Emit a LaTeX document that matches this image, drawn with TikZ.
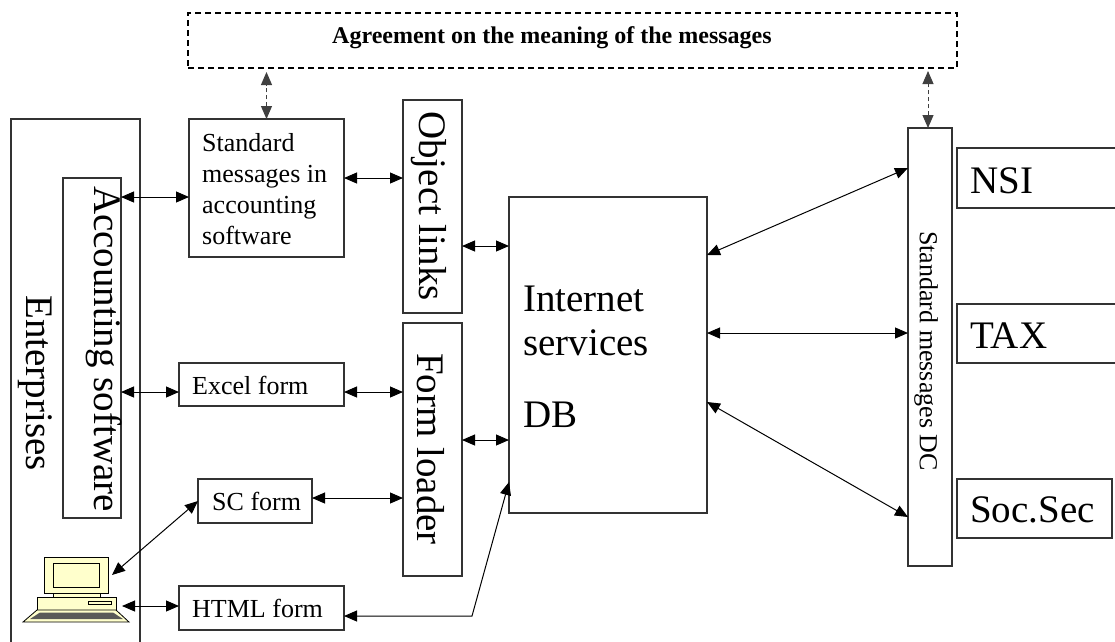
\documentclass[tikz,border=0pt]{standalone}
\usepackage{fontspec}
\setmainfont{Liberation Serif}
\usetikzlibrary{arrows.meta}
\definecolor{pcyel}{HTML}{FFFFCC}
\begin{document}
\begin{tikzpicture}[x=1pt,y=-1pt,
  box/.style={draw=black!80, line width=1.2pt, inner sep=0pt, outer sep=0pt, anchor=north west, fill=white},
  big/.style={font=\fontsize{39}{45}\selectfont, inner sep=0pt},
  small/.style={font=\fontsize{26}{31}\selectfont, inner sep=0pt},
  arr/.style={{Triangle[length=13pt,width=11pt]}-{Triangle[length=13pt,width=11pt]}, line width=1pt},
  dasharr/.style={arr, dash pattern=on 4pt off 3pt, draw=black!75},
]
\useasboundingbox (0,0) rectangle (1115,641);
\clip (0,0) rectangle (1115,641);

% agreement box
\node[box, draw=black, dash pattern=on 6pt off 4pt, minimum width=769, minimum height=55] (agree) at (188,13) {};
\node[anchor=base west, inner sep=0pt, font=\bfseries\fontsize{24}{28}\selectfont] (agreetext) at (332,43) {Agreement on the meaning of the messages};

% enterprises
\node[box, minimum width=129, minimum height=560] (ent) at (11,119) {};
\node[big, rotate=-90] (enttext) at (35,383) {Enterprises};
\node[box, minimum width=58, minimum height=340] (acc) at (63,178) {};
\node[big, rotate=-90] (acctext) at (104,349) {Accounting software};

% standard messages in accounting software
\node[box, minimum width=155, minimum height=138] (stdmsg) at (189,119) {};
\node[small, align=left, anchor=north west] (stdtext) at (202,133) {Standard\\messages in\\accounting\\software};

% object links / form loader
\node[box, minimum width=59, minimum height=213] (obj) at (403,100) {};
\node[big, rotate=-90] (objtext) at (429,206) {Object links};
\node[box, minimum width=59, minimum height=253] (fl) at (403,323) {};
\node[big, rotate=-90] (fltext) at (431,449) {Form loader};

% forms
\node[box, minimum width=165, minimum height=43] (excel) at (179,363) {};
\node[small, anchor=base west] (exceltext) at (192,394) {Excel form};
\node[box, minimum width=114, minimum height=44] (sc) at (198,479) {};
\node[small, anchor=base west] (sctext) at (212,510) {SC form};
\node[box, minimum width=165, minimum height=44] (html) at (179,586) {};
\node[small, anchor=base west] (htmltext) at (192,617) {HTML form};

% internet services
\node[box, minimum width=198, minimum height=316] (inet) at (509,197) {};
\node[big, anchor=base west] (inet1) at (523,311) {Internet};
\node[big, anchor=base west] (inet2) at (523,355) {services};
\node[big, anchor=base west] (db) at (523,427) {DB};

% standard messages DC
\node[box, minimum width=44, minimum height=438] (dc) at (908,128) {};
\node[small, rotate=-90] (dctext) at (926,351) {Standard messages DC};

% targets
\node[box, minimum width=200, minimum height=60] (nsi) at (957,148) {};
\node[big, anchor=base west] (nsitext) at (970,193) {NSI};
\node[box, minimum width=200, minimum height=59] (tax) at (957,304) {};
\node[big, anchor=base west] (taxtext) at (970,348) {TAX};
\node[box, minimum width=155, minimum height=59] (soc) at (957,479) {};
\node[big, anchor=base west] (soctext) at (970,522) {Soc.Sec};

% computer icon
\node[inner sep=0pt, outer sep=0pt, minimum width=106, minimum height=66, anchor=north west] (pc) at (23,557) {};
\begin{scope}[draw=black, line width=0.8pt]
  \filldraw[fill=pcyel] (44,557) rectangle (108,593);
  \filldraw[fill=pcyel] (53,563) rectangle (99,587);
  \filldraw[fill=pcyel] (53,593) rectangle (100,597);
  \filldraw[fill=pcyel] (37,597) rectangle (116,610);
  \filldraw[fill=pcyel] (88,601) rectangle (111,604);
  \filldraw[fill=pcyel] (23,622) -- (37,610) -- (116,610) -- (129,622) -- cycle;
  \fill[black!65] (30,619) -- (40,612.5) -- (113,612.5) -- (123,619) -- cycle;
\end{scope}
\coordinate (pcsc) at (112,575);
\coordinate (pchtml) at (122,606);
\coordinate (bend) at (472,616);

% connectors
\draw[dasharr] (stdmsg.north) -- ([yshift=-4pt]stdmsg.north |- agree.south);
\draw[dasharr] ([xshift=-2pt]dc.north) -- ([xshift=-2pt,yshift=-3pt]dc.north |- agree.south);
\draw[arr] (acc.east |- 0,197) -- (stdmsg.west |- 0,197);
\draw[arr] (stdmsg.east |- 0,178) -- (obj.west |- 0,178);
\draw[arr] (obj.east |- 0,246) -- (inet.west |- 0,246);
\draw[arr] (acc.east |- 0,392) -- (excel.west |- 0,392);
\draw[arr] (excel.east |- 0,392) -- (fl.west |- 0,392);
\draw[arr] (fl.east |- 0,440) -- (inet.west |- 0,440);
\draw[arr] (sc.east |- 0,498) -- (fl.west |- 0,498);
\draw[arr] (pcsc) -- (sc.west);
\draw[arr] (pchtml) -- (html.west |- 0,606);
\draw[arr] (html.east |- 0,616) -- (bend) -- (inet.west |- 0,482);
\draw[arr] (inet.east |- 0,255) -- (dc.west |- 0,168);
\draw[arr] (inet.east |- 0,333) -- (dc.west |- 0,333);
\draw[arr] (inet.east |- 0,402) -- (dc.west |- 0,517);
\end{tikzpicture}
\end{document}
